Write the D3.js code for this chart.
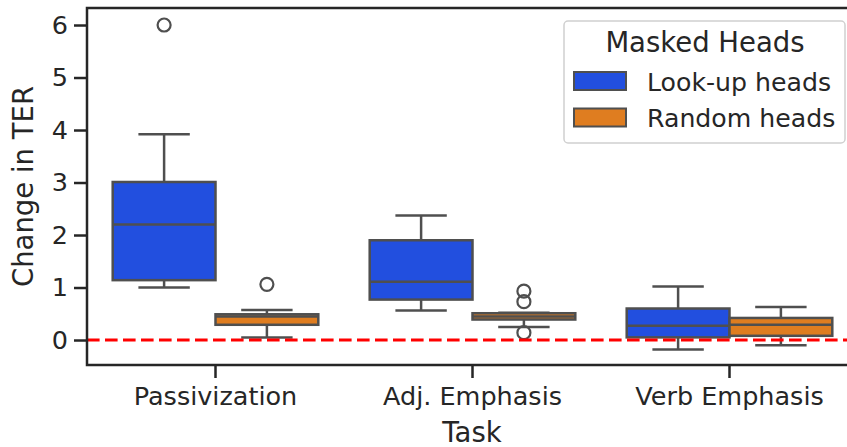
<!DOCTYPE html>
<html><head><meta charset="utf-8">
<script src="https://cdn.jsdelivr.net/npm/d3@7"></script>
<style>body{margin:0;background:#fff}svg{display:block}text{font-family:"DejaVu Sans",sans-serif;fill:#262626}</style>
</head><body>
<script>
// ---- data ----
const tasks = ["Passivization", "Adj. Emphasis", "Verb Emphasis"];
const groups = ["Look-up heads", "Random heads"];
const groupColors = ["#224fdf", "#df7d20"];
const yTicks = [0, 1, 2, 3, 4, 5, 6];
// box stats per task, for each group: [whiskerLow, q1, median, q3, whiskerHigh]
const lookupStats = [
  [1.00, 1.14, 2.20, 3.01, 3.92],
  [0.56, 0.77, 1.11, 1.90, 2.37],
  [-0.18, 0.05, 0.27, 0.60, 1.02]
];
const randomStats = [
  [0.05, 0.29, 0.45, 0.49, 0.57],
  [0.25, 0.39, 0.45, 0.51, 0.52],
  [-0.10, 0.08, 0.29, 0.42, 0.63]
];
const lookupOutliers = [[6.0], [], []];
const randomOutliers = [[1.06], [0.93, 0.73, 0.14], []];
const refLine = 0;

// ---- layout ----
const W = 847, H = 447;
const L = 87, R = 858, T = 8, B = 365;
const svg = d3.select("body").append("svg").attr("width", W).attr("height", H);

const x = d3.scaleBand().domain(tasks).range([L, R]);
const xg = d3.scaleBand().domain(groups).range([0, x.bandwidth()]).paddingOuter(0.25);
const y = d3.scaleLinear().domain([-0.476, 6.324]).range([B, T]);

const edge = "#4f4f4f";
const lw = 2.5;
const statsAll = [lookupStats, randomStats];
const outAll = [lookupOutliers, randomOutliers];

groups.forEach((g, gi) => {
  tasks.forEach((t, ti) => {
    const [wl, q1, md, q3, wh] = statsAll[gi][ti];
    const x0 = x(t) + xg(g), bw = xg.bandwidth(), cx = x0 + bw / 2;
    const gEl = svg.append("g");
    gEl.append("line").attr("x1", cx).attr("x2", cx).attr("y1", y(q3)).attr("y2", y(wh)).attr("stroke", edge).attr("stroke-width", lw);
    gEl.append("line").attr("x1", cx).attr("x2", cx).attr("y1", y(q1)).attr("y2", y(wl)).attr("stroke", edge).attr("stroke-width", lw);
    [wl, wh].forEach(v => gEl.append("line").attr("x1", cx - bw / 4).attr("x2", cx + bw / 4)
      .attr("y1", y(v)).attr("y2", y(v)).attr("stroke", edge).attr("stroke-width", lw));
    gEl.append("rect").attr("x", x0).attr("y", y(q3)).attr("width", bw).attr("height", y(q1) - y(q3))
      .attr("fill", groupColors[gi]).attr("stroke", edge).attr("stroke-width", lw);
    gEl.append("line").attr("x1", x0).attr("x2", x0 + bw).attr("y1", y(md)).attr("y2", y(md)).attr("stroke", edge).attr("stroke-width", lw);
    outAll[gi][ti].forEach(v => gEl.append("circle").attr("cx", cx).attr("cy", y(v)).attr("r", 6.5)
      .attr("fill", "none").attr("stroke", edge).attr("stroke-width", 2.2));
  });
});

// reference line
svg.append("line").attr("x1", L).attr("x2", R).attr("y1", y(refLine)).attr("y2", y(refLine))
  .attr("stroke", "#ff0000").attr("stroke-width", 3.2).attr("stroke-dasharray", "12.6,5.4");

// axes
const yAxis = svg.append("g").attr("transform", `translate(${L},0)`)
  .call(d3.axisLeft(y).tickValues(yTicks).tickFormat(d3.format("d")).tickSize(13).tickPadding(6));
const xAxis = svg.append("g").attr("transform", `translate(0,${B})`)
  .call(d3.axisBottom(x).tickSize(13).tickPadding(9));
[yAxis, xAxis].forEach(a => {
  a.select(".domain").remove();
  a.selectAll(".tick line").attr("stroke", "#262626").attr("stroke-width", 2.5);
  a.selectAll(".tick text").attr("fill", "#262626").style("font-size", "25.5px").style("font-family", "DejaVu Sans");
});
svg.append("path").attr("d", `M${L},${T}V${B}H${R}M${L},${T}H${R}`).attr("fill", "none")
  .attr("stroke", "#262626").attr("stroke-width", 2.5).attr("stroke-linecap", "square");

// axis labels
svg.append("text").attr("x", 472).attr("y", 442).attr("text-anchor", "middle")
  .style("font-size", "27.5px").text("Task");
svg.append("text").attr("transform", `translate(33,${(T + B) / 2}) rotate(-90)`).attr("text-anchor", "middle")
  .style("font-size", "27.5px").text("Change in TER");

// legend
const lg = svg.append("g");
lg.append("rect").attr("x", 564).attr("y", 21).attr("width", 281).attr("height", 122).attr("rx", 4)
  .attr("fill", "#fff").attr("fill-opacity", 0.8).attr("stroke", "#d0d0d0").attr("stroke-width", 1.5);
lg.append("text").attr("x", 705).attr("y", 52).attr("text-anchor", "middle").style("font-size", "27.5px").text("Masked Heads");
groups.forEach((g, i) => {
  const yy = 72 + i * 36.5;
  lg.append("rect").attr("x", 574).attr("y", yy).attr("width", 52).attr("height", 18)
    .attr("fill", groupColors[i]).attr("stroke", edge).attr("stroke-width", 2);
  lg.append("text").attr("x", 647).attr("y", yy + 18.5).style("font-size", "25.2px").text(g);
});
</script>
</body></html>
